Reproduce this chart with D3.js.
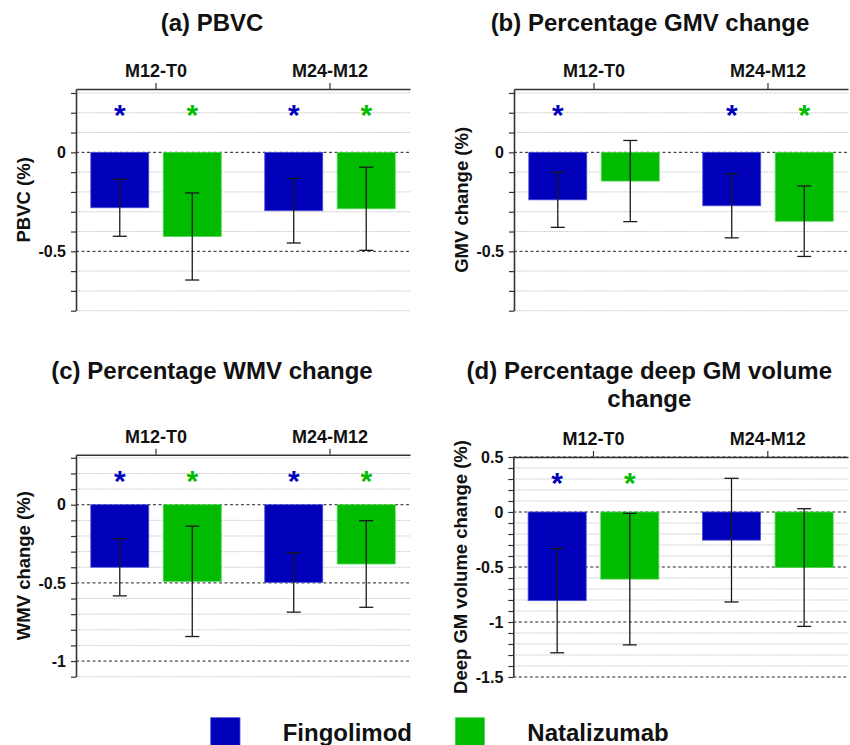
<!DOCTYPE html>
<html>
<head>
<meta charset="utf-8">
<script src="https://cdn.jsdelivr.net/npm/d3@7"></script>
<style>
  html, body { margin: 0; padding: 0; background: #fff; }
  svg { display: block; font-family: "Liberation Sans", Arial, sans-serif; }
</style>
</head>
<body>
<svg id="chart" width="850" height="745"></svg>
<script>
// ---------- data ----------
const groups = ["M12-T0", "M24-M12"];
const series = ["Fingolimod", "Natalizumab"];
const seriesColors = ["#0000bb", "#00bb00"];
const seriesStroke = ["#5050d8", "#50d850"];

// (a) PBVC
const pbvcFingolimod = [-0.28, -0.295];
const pbvcFingolimodErr = [0.144, 0.163];
const pbvcNatalizumab = [-0.425, -0.285];
const pbvcNatalizumabErr = [0.22, 0.21];
const pbvcSigFingolimod = [true, true];
const pbvcSigNatalizumab = [true, true];
const pbvcTickLabels = ["0", "-0.5"];

// (b) GMV
const gmvFingolimod = [-0.24, -0.27];
const gmvFingolimodErr = [0.139, 0.162];
const gmvNatalizumab = [-0.145, -0.348];
const gmvNatalizumabErr = [0.205, 0.178];
const gmvSigFingolimod = [true, true];
const gmvSigNatalizumab = [false, true];
const gmvTickLabels = ["0", "-0.5"];

// (c) WMV
const wmvFingolimod = [-0.40, -0.497];
const wmvFingolimodErr = [0.183, 0.19];
const wmvNatalizumab = [-0.49, -0.379];
const wmvNatalizumabErr = [0.353, 0.277];
const wmvSigFingolimod = [true, true];
const wmvSigNatalizumab = [true, true];
const wmvTickLabels = ["0", "-0.5", "-1"];

// (d) deep GM volume
const dgmFingolimod = [-0.806, -0.256];
const dgmFingolimodErr = [0.474, 0.562];
const dgmNatalizumab = [-0.61, -0.505];
const dgmNatalizumabErr = [0.598, 0.535];
const dgmSigFingolimod = [true, false];
const dgmSigNatalizumab = [true, false];
const dgmTickLabels = ["0.5", "0", "-0.5", "-1", "-1.5"];

// ---------- panels ----------
const panels = [
  { title: ["(a) PBVC"], ylabel: "PBVC (%)",
    means: [pbvcFingolimod, pbvcNatalizumab], errs: [pbvcFingolimodErr, pbvcNatalizumabErr],
    sig: [pbvcSigFingolimod, pbvcSigNatalizumab], tickLabels: pbvcTickLabels,
    domain: [-0.8, 0.32], left: 76, right: 410, top: 89, bottom: 310.7, titleY: 30.7 },
  { title: ["(b) Percentage GMV change"], ylabel: "GMV change (%)",
    means: [gmvFingolimod, gmvNatalizumab], errs: [gmvFingolimodErr, gmvNatalizumabErr],
    sig: [gmvSigFingolimod, gmvSigNatalizumab], tickLabels: gmvTickLabels,
    domain: [-0.8, 0.32], left: 514, right: 848, top: 89, bottom: 310.7, titleY: 30.7 },
  { title: ["(c) Percentage WMV change"], ylabel: "WMV change (%)",
    means: [wmvFingolimod, wmvNatalizumab], errs: [wmvFingolimodErr, wmvNatalizumabErr],
    sig: [wmvSigFingolimod, wmvSigNatalizumab], tickLabels: wmvTickLabels,
    domain: [-1.1, 0.32], left: 76, right: 410, top: 454.7, bottom: 676.7, titleY: 379.3 },
  { title: ["(d) Percentage deep GM volume", "change"], ylabel: "Deep GM volume change (%)",
    means: [dgmFingolimod, dgmNatalizumab], errs: [dgmFingolimodErr, dgmNatalizumabErr],
    sig: [dgmSigFingolimod, dgmSigNatalizumab], tickLabels: dgmTickLabels,
    domain: [-1.5, 0.5], left: 513.3, right: 848, top: 457, bottom: 677, titleY: 379.3 }
];

const svg = d3.select("#chart");

panels.forEach(p => {
  const g = svg.append("g");
  const y = d3.scaleLinear().domain(p.domain).range([p.bottom, p.top]);
  const x0 = d3.scaleBand().domain(groups).range([p.left, p.right])
    .paddingInner(0.25).paddingOuter(0.085);
  const x1 = d3.scaleBand().domain(series).range([0, x0.bandwidth()]).paddingInner(0.2).paddingOuter(0);

  const minor = d3.range(Math.ceil(p.domain[0] * 10 - 1e-9), Math.floor(p.domain[1] * 10 + 1e-9) + 1).map(i => i / 10);
  const isMajor = v => Math.abs(v * 2 - Math.round(v * 2)) < 1e-9;
  const majors = minor.filter(isMajor).sort((a, b) => b - a);

  // gridlines
  g.append("g").selectAll("line").data(minor.filter(v => !isMajor(v))).join("line")
    .attr("x1", p.left).attr("x2", p.right)
    .attr("y1", d => y(d)).attr("y2", d => y(d))
    .attr("stroke", "#b8b8b8").attr("stroke-width", 0.8).attr("stroke-dasharray", "1.5,1");
  g.append("g").selectAll("line").data(majors).join("line")
    .attr("x1", p.left).attr("x2", p.right)
    .attr("y1", d => y(d)).attr("y2", d => y(d))
    .attr("stroke", "#222").attr("stroke-width", 1).attr("stroke-dasharray", "3,2.5");

  // bars
  const rows = [];
  series.forEach((s, si) => groups.forEach((gr, gi) => {
    rows.push({ s, si, gr, gi, v: p.means[si][gi], e: p.errs[si][gi], sig: p.sig[si][gi] });
  }));
  g.append("g").selectAll("rect").data(rows).join("rect")
    .attr("x", d => x0(d.gr) + x1(d.s))
    .attr("width", x1.bandwidth())
    .attr("y", d => y(Math.max(0, d.v)))
    .attr("height", d => Math.abs(y(d.v) - y(0)))
    .attr("fill", d => seriesColors[d.si])
    .attr("stroke", d => seriesStroke[d.si]).attr("stroke-width", 0.8);

  // error bars
  const cx = d => x0(d.gr) + x1(d.s) + x1.bandwidth() / 2;
  const eb = g.append("g").attr("stroke", "#1a1a1a").attr("stroke-width", 1.3);
  eb.selectAll("line.v").data(rows).join("line").attr("class", "v")
    .attr("x1", cx).attr("x2", cx)
    .attr("y1", d => y(d.v + d.e)).attr("y2", d => y(d.v - d.e));
  eb.selectAll("line.t").data(rows).join("line").attr("class", "t")
    .attr("x1", d => cx(d) - 7).attr("x2", d => cx(d) + 7)
    .attr("y1", d => y(d.v + d.e)).attr("y2", d => y(d.v + d.e));
  eb.selectAll("line.b").data(rows).join("line").attr("class", "b")
    .attr("x1", d => cx(d) - 7).attr("x2", d => cx(d) + 7)
    .attr("y1", d => y(d.v - d.e)).attr("y2", d => y(d.v - d.e));

  // asterisks
  g.append("g").selectAll("text").data(rows.filter(d => d.sig)).join("text")
    .attr("x", cx).attr("y", p.top + 21 + 15)
    .attr("text-anchor", "middle")
    .attr("font-size", 30).attr("font-weight", "bold")
    .attr("fill", d => seriesColors[d.si])
    .text("*");

  // left axis
  const yAxis = d3.axisLeft(y).tickValues(minor).tickSize(5).tickSizeOuter(0)
    .tickFormat(v => { if (!isMajor(v)) return ""; const i = majors.indexOf(majors.find(m => Math.abs(m - v) < 1e-9)); return p.tickLabels[i]; });
  const ya = g.append("g").attr("transform", `translate(${p.left},0)`).call(yAxis);
  ya.select(".domain").attr("stroke", "#333").attr("stroke-width", 1.6);
  ya.selectAll(".tick line").attr("stroke", "#333").attr("stroke-width", 1.2);
  ya.selectAll(".tick text").attr("font-size", 16).attr("font-weight", "bold")
    .attr("fill", "#111").attr("x", -10).attr("font-family", "Liberation Sans, Arial, sans-serif");

  // top axis
  const xAxis = d3.axisTop(x0).tickSize(6).tickSizeOuter(0);
  const xa = g.append("g").attr("transform", `translate(0,${p.top})`).call(xAxis);
  xa.select(".domain").attr("stroke", "#333").attr("stroke-width", 1.6);
  xa.selectAll(".tick line").attr("stroke", "#333").attr("stroke-width", 1.2);
  xa.selectAll(".tick text").attr("font-size", 18).attr("font-weight", "bold")
    .attr("fill", "#111").attr("y", -12).attr("dy", 0)
    .attr("font-family", "Liberation Sans, Arial, sans-serif");

  // y label
  g.append("text")
    .attr("transform", `translate(${p.left - 46},${(p.top + p.bottom) / 2}) rotate(-90)`)
    .attr("text-anchor", "middle")
    .attr("font-size", 18.5).attr("font-weight", "bold").attr("fill", "#111")
    .text(p.ylabel);

  // title
  const t = g.append("text").attr("text-anchor", "middle")
    .attr("font-size", 24).attr("font-weight", "bold").attr("fill", "#111");
  p.title.forEach((line, i) => {
    t.append("tspan").attr("x", p.left + 136).attr("y", p.titleY + i * 28).text(line);
  });
});

// legend
const legendX = [210.7, 455.3];
const leg = svg.append("g");
series.forEach((s, i) => {
  leg.append("rect").attr("x", legendX[i]).attr("y", 717.7).attr("width", 29.3).attr("height", 30)
    .attr("fill", seriesColors[i]).attr("stroke", seriesStroke[i]).attr("stroke-width", 0.8);
  leg.append("text").attr("x", legendX[i] + 72).attr("y", 741)
    .attr("font-size", 24).attr("font-weight", "bold").attr("fill", "#111").text(s);
});
</script>
</body>
</html>
